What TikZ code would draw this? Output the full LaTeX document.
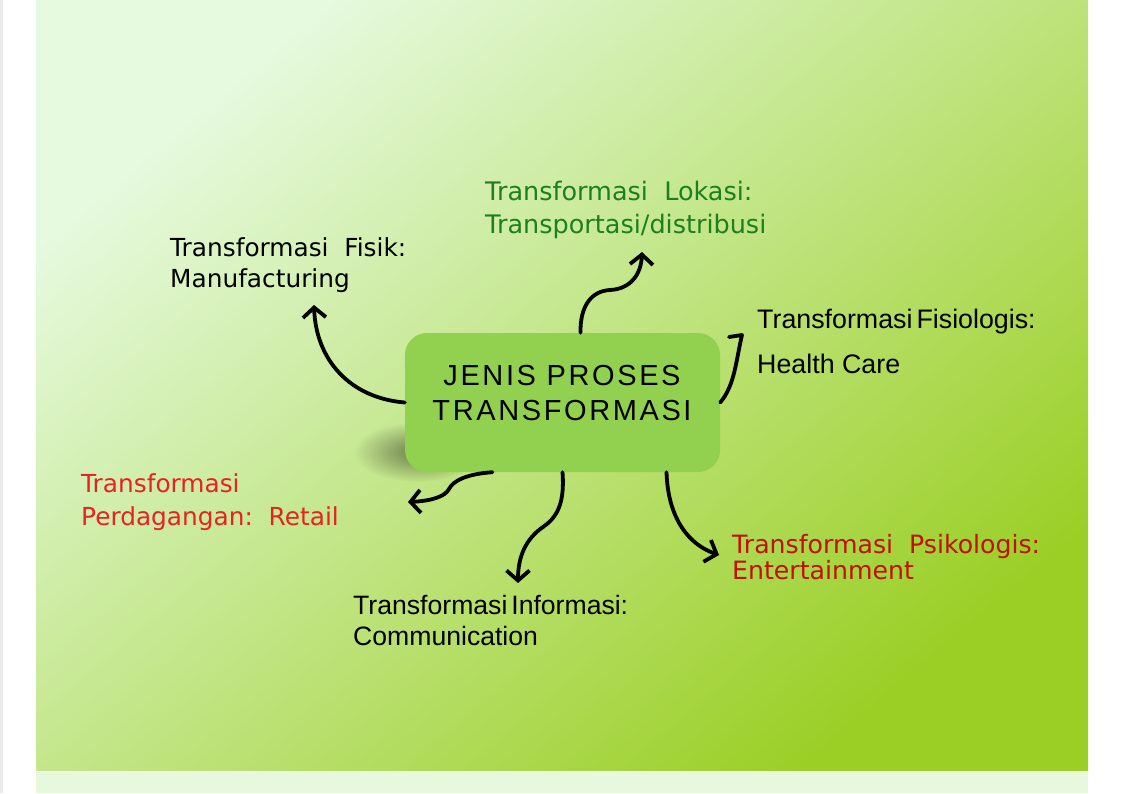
\documentclass[tikz,border=0pt]{standalone}
\usepackage{fontspec}
\usetikzlibrary{arrows.meta,calc,fadings}
\newfontfamily\verd{DejaVu Sans}
\newfontfamily\arl{Liberation Sans}
\newfontfamily\arlsp[LetterSpace=9]{Liberation Sans}
\definecolor{bgA}{HTML}{E6FADF}
\definecolor{bgB}{HTML}{C0E78E}
\definecolor{bgC}{HTML}{9BCF26}
\definecolor{strip}{HTML}{E6F9DD}
\definecolor{boxg}{HTML}{92D050}
\definecolor{lokg}{HTML}{1E7F1E}
\definecolor{redl}{HTML}{E62222}
\definecolor{dred}{HTML}{C01000}
\tikzfading[name=softfade, inner color=transparent!0, outer color=transparent!100]
\begin{document}
\begin{tikzpicture}[x=1pt,y=-1pt,
  box/.style={fill=boxg, rounded corners=22pt, minimum width=315pt, minimum height=139pt, inner sep=0pt},
  lbl/.style={anchor=base west, inner sep=0pt, align=left},
  arr/.style={line width=3.8pt, line cap=round, line join=round, -{Straight Barb[length=10pt,width=23pt]}},
  hook/.style={line width=3.8pt, line cap=round, line join=round}]
\useasboundingbox (0,0) rectangle (1123,793);
\fill[white] (0,0) rectangle (1123,793);
\fill[black!8] (0,0) rectangle (3,793);
\shade[top color=bgA, middle color=bgB, bottom color=bgC, shading angle=40] (36,0) rectangle (1088,770);
\fill[strip] (36,772) rectangle (1088,793);

% shadow of the central box
\fill[black, opacity=0.45, path fading=softfade] (418,452) ellipse (64 and 30);

% central box
\node[box] (c) at (562.5,402.5) {};
\node[anchor=base, inner sep=0pt, align=center, font=\arlsp\fontsize{29}{35}\selectfont] (ct) at (562,420) {JENIS PROSES\\TRANSFORMASI};

% labels
\node[lbl, font=\verd\fontsize{24.8}{31}\selectfont] (fisik) at (170,287) {Transformasi\ \ Fisik:\\Manufacturing};
\node[lbl, text=lokg, font=\verd\fontsize{25.5}{33}\selectfont] (lokasi) at (485,233) {Transformasi\ \ Lokasi:\\Transportasi/distribusi};
\node[lbl, font=\arl\fontsize{26.8}{45}\selectfont] (fisio) at (757,373) {Transformasi\hspace{0.15em}Fisiologis:\\Health Care};
\node[lbl, text=redl, font=\verd\fontsize{24.8}{33}\selectfont] (retail) at (81,525) {Transformasi\\Perdagangan:\ \ Retail};
\node[lbl, font=\arl\fontsize{26.6}{31}\selectfont] (info) at (353,645) {Transformasi\hspace{0.15em}Informasi:\\Communication};
\node[lbl, text=dred, font=\verd\fontsize{25.2}{20}\selectfont] (psi) at (732,579) {Transformasi\ \ Psikologis:\\Entertainment};

% arrow ends
\coordinate (t1) at (314,305);
\coordinate (t2) at (642,252);
\coordinate (t3) at (742,335);
\coordinate (t3b) at (729,337);
\coordinate (t4) at (408,502);
\coordinate (t5) at (518,583);
\coordinate (t6) at (719,555);

% connectors
\draw[arr] (c.west) .. controls (350,398) and (316,360) .. (t1);
\draw[arr] ([xshift=18pt]c.north) .. controls (580,305) and (592,291) .. (610,290) .. controls (630,289) and (641,275) .. (t2);
\draw[hook] (c.east) .. controls (735,385) and (736,360) .. (t3) -- (t3b);
\draw[arr] ([xshift=-70pt]c.south) .. controls (466,474) and (453,481) .. (449,489) .. controls (445,497) and (430,501) .. (t4);
\draw[arr] (c.south) .. controls (565,505) and (556,518) .. (543,527) .. controls (527,538) and (518,555) .. (t5);
\draw[arr] ([xshift=104pt]c.south) .. controls (668,520) and (690,545) .. (t6);
\end{tikzpicture}
\end{document}
